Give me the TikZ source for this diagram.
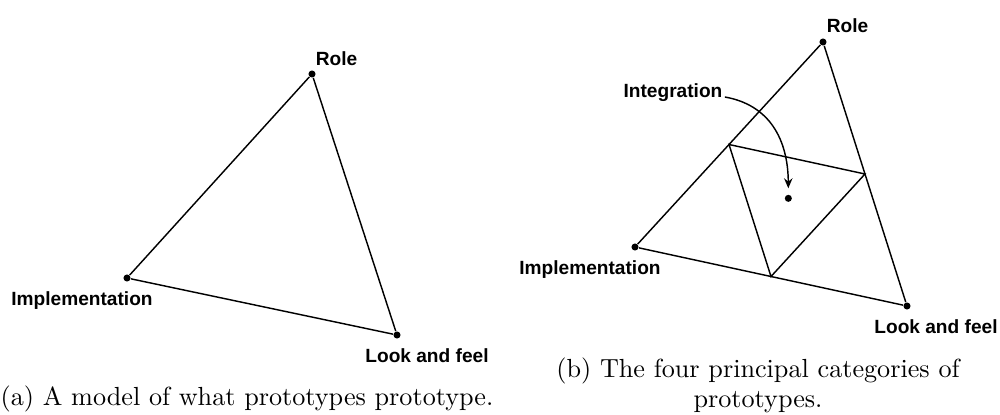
\documentclass[tikz,border=0pt]{standalone}
\usepackage{fontspec}
\newfontfamily\lblfont{Liberation Sans}
\usetikzlibrary{calc,arrows.meta}
\begin{document}
\begin{tikzpicture}[x=0.382pt,y=-0.382pt,
  dot/.style={circle,fill=black,inner sep=0pt,minimum size=2.7pt},
  lbl/.style={font=\lblfont\bfseries\fontsize{7.3}{8.5}\selectfont,inner sep=0pt,anchor=base},
  edge/.style={line width=0.55pt},
  captext/.style={font=\fontsize{10}{11.5}\selectfont,inner sep=0pt,align=center}]
\useasboundingbox (0,0) rectangle (1000,415);

% (a) left triangle
\node[dot] (R1) at (312,74) {};
\node[dot] (I1) at (127,278) {};
\node[dot] (L1) at (397,335) {};
\node[lbl] (R1t) at (336.5,65) {Role};
\node[lbl] (I1t) at (82,305) {Implementation};
\node[lbl] (L1t) at (427,362) {Look and feel};
\draw[edge] (R1) -- (I1);
\draw[edge] (I1) -- (L1);
\draw[edge] (L1) -- (R1);
\node[captext,anchor=base] (capA) at (247,405) {(a) A model of what prototypes prototype.};

% (b) right triangle
\node[dot] (R2) at (823,42) {};
\node[dot] (I2) at (635,247) {};
\node[dot] (L2) at (907,306) {};
\node[lbl] (R2t) at (847.5,32) {Role};
\node[lbl] (I2t) at (590,274) {Implementation};
\node[lbl] (L2t) at (936,333) {Look and feel};
\node[lbl] (Int) at (673,97) {Integration};
\draw[edge] (R2) -- (I2);
\draw[edge] (I2) -- (L2);
\draw[edge] (L2) -- (R2);
\coordinate (M1) at ($(I2)!0.5!(R2)$);
\coordinate (M2) at ($(R2)!0.5!(L2)$);
\coordinate (M3) at ($(I2)!0.5!(L2)$);
\draw[edge] (M1) -- (M2) -- (M3) -- cycle;
\node[dot] (C) at ($(M1)!1/3!(L2)$) {};
\coordinate (A0) at ($(Int.base east)+(2,0)$);
\coordinate (A1) at ($(C.north)+(0,-6)$);
\draw[edge,-{Stealth[length=3.8pt,width=3.2pt]}] (A0) .. controls (770,105) and (788,140) .. (A1);
\node[captext,anchor=north] (capB) at (758,357.4) {(b) The four principal categories of\\prototypes.};
\end{tikzpicture}
\end{document}
